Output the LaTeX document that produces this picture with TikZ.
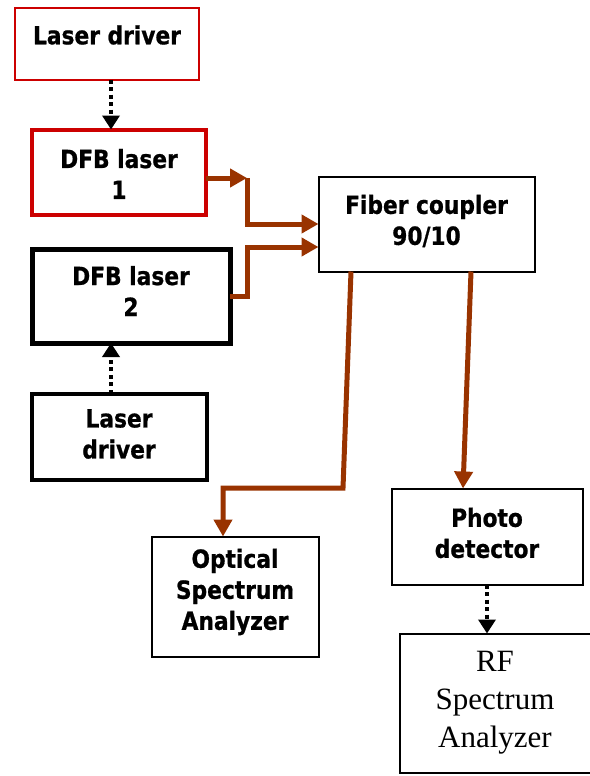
\documentclass[tikz,border=0pt]{standalone}
\usepackage{fontspec}
\setmainfont{DejaVu Sans}[FakeStretch=0.87,BoldFeatures={FakeBold=0.8}]
\newfontfamily\rffont{Liberation Serif}
\usetikzlibrary{arrows.meta}
\definecolor{boxred}{RGB}{204,0,0}
\definecolor{fiber}{RGB}{153,51,0}
\begin{document}
\begin{tikzpicture}[x=1pt,y=-1pt,
  lbl/.style={font=\bfseries\fontsize{25}{31}\selectfont,align=center},
  box/.style={draw,rectangle,inner sep=0pt,outer sep=0pt,lbl},
  thinbox/.style={box,line width=2pt},
  fib/.style={draw=fiber,line width=5pt,line join=miter,-{Triangle[length=17pt,width=18pt]}},
  dotarrow/.style={draw=black,line width=4pt,dash pattern=on 4pt off 3.5pt,-{Triangle[length=14pt,width=17pt]}}
]
\useasboundingbox (0,0) rectangle (589,776);
\fill[white] (0,0) rectangle (589,776);

% boxes
\node[box,draw=boxred,line width=2pt,minimum width=184pt,minimum height=71pt] (ld1) at (106.5,44) {};
\node[lbl] (ld1t) at (107,35) {Laser driver};
\node[box,draw=boxred,line width=4pt,minimum width=174pt,minimum height=85pt] (dfb1) at (118.5,172) {};
\node[lbl] (dfb1t) at (119,174) {DFB laser\\1};
\node[box,line width=5pt,minimum width=198pt,minimum height=94pt] (dfb2) at (131,296) {};
\node[lbl] (dfb2t) at (131,291) {DFB laser\\2};
\node[box,line width=4pt,minimum width=175pt,minimum height=86pt] (ld2) at (119,436.5) {};
\node[lbl] (ld2t) at (119,434) {Laser\\driver};
\node[thinbox,minimum width=216pt,minimum height=95pt] (fc) at (426.5,224) {};
\node[lbl] (fct) at (426.5,221) {Fiber coupler\\90/10};
\node[thinbox,minimum width=167pt,minimum height=120pt] (osa) at (235,596.5) {};
\node[lbl] (osat) at (235,592) {Optical\\Spectrum\\Analyzer};
\node[thinbox,minimum width=191pt,minimum height=96pt] (pd) at (487,536.5) {};
\node[lbl] (pdt) at (487,533) {Photo\\detector};
\node[thinbox,minimum width=191pt,minimum height=139pt,font=\rffont\fontsize{31}{38}\selectfont] (rf) at (495,703) {RF\\Spectrum\\Analyzer};

% helper coordinates
\coordinate (xa) at (111,0);
\coordinate (xb) at (487,0);
\coordinate (c1) at (247,178);
\coordinate (c2) at (247,296);
\coordinate (f2) at (318,247);
\coordinate (q1) at (351,0);
\coordinate (q2) at (343,488);
\coordinate (q3) at (223,488);
\coordinate (o1) at (471,0);
\coordinate (o2) at (463,0);

% dotted control arrows
\draw[dotarrow] (ld1.south -| xa) -- (dfb1.north -| xa);
\draw[dotarrow] (ld2.north -| xa) -- (dfb2.south -| xa);
\draw[dotarrow] (pd.south -| xb) -- (rf.north -| xb);

% fiber connections
\draw[fib] (dfb1.east |- c1) -- (c1);
\draw[fib] (c1) |- (fc.west);
\draw[fib] (dfb2.east |- c2) -- (c2) |- (fc.west |- f2);
\draw[fib] (fc.south -| q1) -- (q2) -- (q3) -- (osa.north -| q3);
\draw[fib] (fc.south -| o1) -- (pd.north -| o2);
\end{tikzpicture}
\end{document}
